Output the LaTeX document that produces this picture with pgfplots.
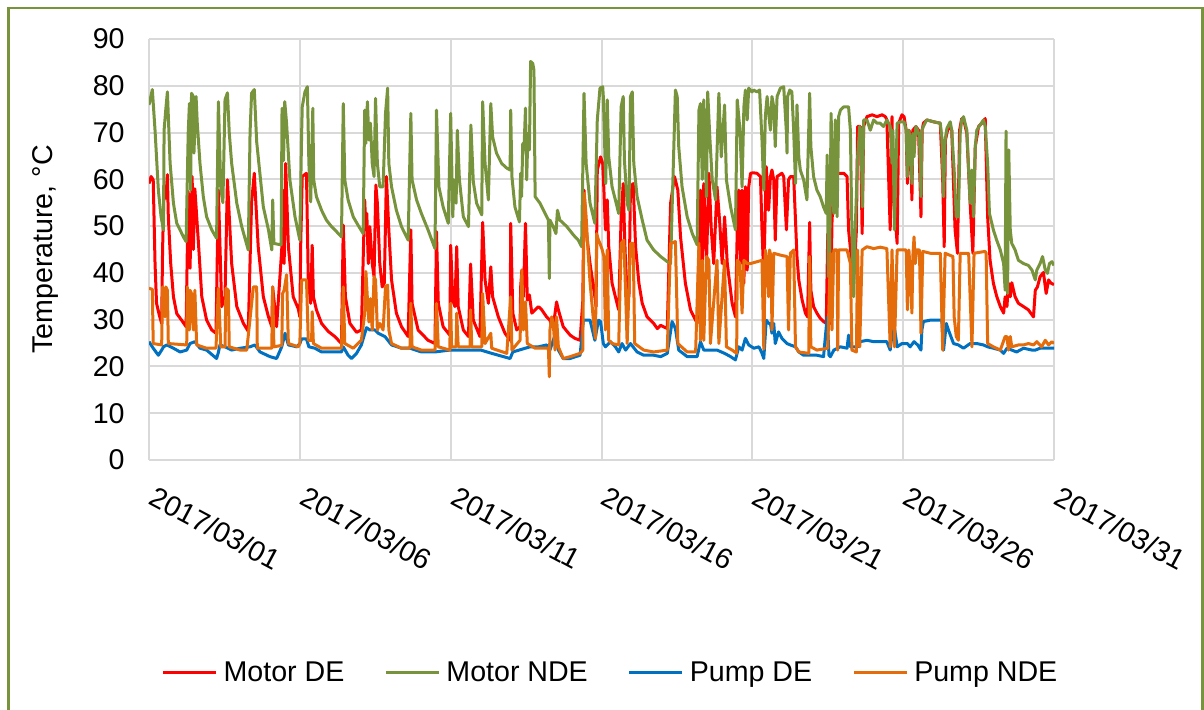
\documentclass[border=0pt]{standalone}
\usepackage{fontspec}
\setmainfont{Liberation Sans}
\usepackage{pgfplots}
\pgfplotsset{compat=1.18}

\definecolor{mde}{HTML}{FF0000}
\definecolor{mnde}{HTML}{77933C}
\definecolor{pde}{HTML}{0070C0}
\definecolor{pnde}{HTML}{E46C0A}
\definecolor{gridc}{HTML}{D9D9D9}
\definecolor{framec}{HTML}{77933C}
\newcommand\chartfont{\fontsize{14.3}{17}\selectfont}

\begin{document}
\begin{tikzpicture}
% outer chart frame
\draw[framec, line width=1.3pt] (4.3pt,-3.9pt) rectangle (601.3pt,-380pt);

\begin{axis}[
  at={(74.5pt,-230pt)}, anchor=south west,
  scale only axis, width=452.5pt, height=210.5pt,
  xmin=0, xmax=30, ymin=0, ymax=90,
  xtick={0,5,10,15,20,25,30},
  xticklabels={2017/03/01,2017/03/06,2017/03/11,2017/03/16,2017/03/21,2017/03/26,2017/03/31},
  ytick={0,10,...,90},
  /pgf/number format/assume math mode=true,
  grid=major,
  major grid style={draw=gridc, line width=1pt},
  axis line style={draw=none},
  tick style={draw=none},
  tick label style={font=\chartfont},
  yticklabel style={anchor=east, inner sep=0pt, xshift=-12pt},
  xticklabel style={xshift=4pt, yshift=-12.5pt, rotate=-28, anchor=north west, inner sep=0pt},
  ylabel={Temperature, °C},
  ylabel style={font=\chartfont, at={(axis description cs:-0.1149,0.5)}, anchor=center},
  legend columns=4,
  legend cell align=left,
  legend style={at={(axis description cs:0.5088,-0.5036)}, anchor=center,
    draw=none, fill=none, inner sep=0pt, font=\chartfont,
    nodes={inner sep=0pt, text depth=0pt},
    /tikz/every even column/.append style={column sep=20pt},
    /tikz/every odd column/.append style={column sep=3pt}},
  legend image code/.code={\draw[#1] (0pt,0pt) -- (26.5pt,0pt);},
  every axis plot/.append style={line width=1.5pt, line join=round, mark=none},
]

% Motor DE
\addplot[mde] coordinates {
(0,59.1) (0.07,60.6) (0.14,59.9) (0.20,42.0) (0.25,33.5) (0.34,31.0) (0.42,29.2) (0.45,45.0) (0.50,58.4) (0.56,56.0) (0.61,61.0) (0.64,52.0) (0.72,42.0) (0.81,34.9) (0.92,31.3) (1.08,29.9) (1.23,28.5) (1.27,45.0) (1.30,57.4) (1.36,41.0) (1.43,60.6) (1.47,45.0) (1.52,58.0) (1.64,46.3) (1.75,34.9) (1.91,29.9) (2.08,27.8) (2.22,27.1) (2.30,57.7) (2.41,32.8) (2.52,35.0) (2.60,59.9) (2.74,42.0) (2.91,32.8) (3.13,29.2) (3.29,27.5) (3.40,55.0) (3.49,61.3) (3.62,45.6) (3.79,34.9) (3.96,30.6) (4.07,28.5) (4.10,37.0) (4.23,28.5) (4.40,45.0) (4.43,57.7) (4.48,42.0) (4.53,63.4) (4.62,45.6) (4.78,34.9) (4.95,32.3) (5.0,30.6) (5.03,46.3) (5.08,60.6) (5.22,61.3) (5.28,38.5) (5.36,33.5) (5.41,45.9) (5.45,34.9) (5.55,32.1) (5.72,29.2) (5.94,27.5) (6.16,26.4) (6.38,24.9) (6.44,50.2) (6.51,34.9) (6.66,29.2) (6.88,27.3) (7.04,27.8) (7.15,55.6) (7.19,49.2) (7.22,52.7) (7.27,42.0) (7.32,49.9) (7.40,42.0) (7.46,39.2) (7.52,58.8) (7.57,54.9) (7.65,42.0) (7.73,37.0) (7.80,37.8) (7.87,60.6) (7.95,49.2) (8.04,38.5) (8.20,31.4) (8.37,28.5) (8.59,26.4) (8.68,49.2) (8.72,33.5) (8.92,27.8) (9.25,25.6) (9.48,24.9) (9.53,48.8) (9.59,33.5) (9.75,28.5) (9.97,26.7) (10.0,45.9) (10.07,34.2) (10.14,32.8) (10.20,45.6) (10.25,32.8) (10.42,27.8) (10.59,26.4) (10.66,41.9) (10.75,29.9) (10.97,26.4) (11.06,50.8) (11.14,38.5) (11.25,33.5) (11.33,41.3) (11.39,34.9) (11.58,30.6) (11.80,27.1) (11.97,25.6) (11.99,50.6) (12.06,31.4) (12.19,27.8) (12.30,28.5) (12.32,37.0) (12.36,40.6) (12.41,34.9) (12.48,50.6) (12.54,34.2) (12.61,35.3) (12.69,31.4) (12.80,32.1) (12.91,32.8) (13.02,32.1) (13.18,30.6) (13.29,29.9) (13.35,28.5) (13.43,29.9) (13.51,33.8) (13.57,32.1) (13.73,28.5) (13.96,26.7) (14.12,26.0) (14.29,25.6) (14.38,34.0) (14.42,57.7) (14.49,49.2) (14.62,42.0) (14.78,34.9) (14.82,32.8) (14.86,62.0) (14.97,64.8) (15.04,63.4) (15.08,57.7) (15.13,49.2) (15.19,55.6) (15.24,45.6) (15.35,37.8) (15.46,34.9) (15.57,32.1) (15.65,52.0) (15.72,59.1) (15.76,49.2) (15.83,35.6) (15.91,34.9) (15.96,58.4) (16.05,59.1) (16.13,45.6) (16.24,37.8) (16.35,33.5) (16.51,30.6) (16.73,29.2) (16.85,28.1) (16.96,28.8) (17.18,28.1) (17.29,54.9) (17.42,60.6) (17.53,57.7) (17.62,47.7) (17.78,37.8) (17.95,32.1) (18.17,29.2) (18.23,43.5) (18.28,57.7) (18.34,42.0) (18.39,59.1) (18.48,42.0) (18.56,61.3) (18.64,49.2) (18.72,42.0) (18.83,58.4) (18.92,50.6) (19.0,42.0) (19.08,52.0) (19.17,42.0) (19.33,33.5) (19.44,30.6) (19.50,49.2) (19.55,57.7) (19.61,42.0) (19.66,57.7) (19.72,37.8) (19.77,58.4) (19.83,40.6) (19.88,58.4) (19.94,61.3) (20.03,61.4) (20.15,61.3) (20.27,60.6) (20.32,49.2) (20.38,39.2) (20.46,62.7) (20.54,53.4) (20.60,60.6) (20.65,62.0) (20.71,59.9) (20.76,47.0) (20.82,60.6) (20.98,61.3) (21.04,60.6) (21.13,49.2) (21.20,59.9) (21.26,60.6) (21.37,60.6) (21.43,51.3) (21.48,43.5) (21.54,38.5) (21.65,34.2) (21.76,31.4) (21.83,30.6) (21.90,50.8) (21.94,36.3) (22.03,32.8) (22.14,31.4) (22.25,30.3) (22.36,29.6) (22.45,29.2) (22.50,48.4) (22.54,39.9) (22.59,29.2) (22.64,50.8) (22.72,61.3) (22.86,61.3) (23.03,61.3) (23.14,60.6) (23.19,49.2) (23.30,42.0) (23.36,38.5) (23.45,49.2) (23.49,71.3) (23.58,71.3) (23.64,48.4) (23.69,71.3) (23.80,73.4) (23.97,73.8) (24.13,73.4) (24.30,73.8) (24.41,73.4) (24.46,72.7) (24.57,49.2) (24.63,73.4) (24.68,56.3) (24.80,46.3) (24.85,72.0) (24.96,73.8) (25.03,73.4) (25.10,70.5) (25.14,59.1) (25.19,70.5) (25.23,69.8) (25.29,55.6) (25.32,70.5) (25.42,71.3) (25.51,70.5) (25.59,52.0) (25.63,70.5) (25.67,72.0) (25.78,72.7) (26.01,72.3) (26.23,72.0) (26.31,59.9) (26.36,45.6) (26.40,68.4) (26.50,71.3) (26.61,70.5) (26.72,49.2) (26.80,44.2) (26.87,70.5) (26.94,73.0) (27.0,73.0) (27.11,69.8) (27.22,54.9) (27.31,44.2) (27.39,67.0) (27.50,71.3) (27.61,72.0) (27.72,73.0) (27.75,64.8) (27.80,52.0) (27.88,42.7) (27.99,37.8) (28.10,35.0) (28.22,32.8) (28.33,31.4) (28.38,34.9) (28.44,32.8) (28.49,37.8) (28.55,34.9) (28.60,37.9) (28.71,34.9) (28.82,33.5) (28.99,32.8) (29.15,32.1) (29.32,30.6) (29.38,36.3) (29.45,37.0) (29.54,39.2) (29.65,40.1) (29.74,35.6) (29.82,38.5) (29.90,37.8) (30.0,37.5)
};
\addlegendentry{Motor DE}

% Motor NDE
\addplot[mnde] coordinates {
(0,75.9) (0.11,79.2) (0.20,70.5) (0.31,57.7) (0.40,52.0) (0.48,49.2) (0.50,70.5) (0.56,75.2) (0.61,78.7) (0.70,63.4) (0.81,54.9) (0.92,50.6) (1.03,49.2) (1.14,47.7) (1.23,46.7) (1.30,70.0) (1.34,76.2) (1.38,57.7) (1.41,78.4) (1.47,77.7) (1.49,65.6) (1.56,77.7) (1.60,72.0) (1.69,63.4) (1.80,56.3) (1.91,52.0) (2.08,49.2) (2.24,47.4) (2.30,76.6) (2.38,58.0) (2.45,55.0) (2.52,77.0) (2.60,78.5) (2.66,70.0) (2.74,63.4) (2.91,54.9) (3.07,50.0) (3.29,44.9) (3.35,70.0) (3.40,78.4) (3.49,79.2) (3.57,68.0) (3.68,61.0) (3.79,54.1) (3.96,49.2) (4.07,44.9) (4.10,55.6) (4.14,46.3) (4.38,46.0) (4.41,75.2) (4.46,64.0) (4.50,76.6) (4.56,72.0) (4.67,59.9) (4.84,52.0) (5.0,47.0) (5.06,70.0) (5.08,75.5) (5.17,78.7) (5.25,79.8) (5.30,63.4) (5.36,55.2) (5.43,75.2) (5.46,59.9) (5.55,56.3) (5.72,53.4) (5.88,51.3) (6.05,49.9) (6.22,48.8) (6.38,47.7) (6.44,76.2) (6.49,59.9) (6.60,55.6) (6.77,52.0) (6.93,50.2) (7.10,48.4) (7.15,74.8) (7.19,67.7) (7.24,76.6) (7.29,68.4) (7.34,72.0) (7.40,63.4) (7.46,60.6) (7.51,77.3) (7.57,63.4) (7.65,58.4) (7.76,58.4) (7.84,74.1) (7.91,79.5) (7.95,63.4) (8.04,58.4) (8.20,53.4) (8.37,49.9) (8.59,47.0) (8.68,74.1) (8.72,59.9) (8.87,55.6) (9.03,52.7) (9.25,49.2) (9.48,45.2) (9.53,74.8) (9.61,58.4) (9.75,54.1) (9.92,50.6) (10.0,74.1) (10.07,52.0) (10.11,59.9) (10.18,54.9) (10.22,70.5) (10.29,59.9) (10.42,52.0) (10.59,49.9) (10.67,71.6) (10.75,59.5) (10.86,54.9) (11.03,52.4) (11.06,76.6) (11.14,63.4) (11.25,55.6) (11.33,76.2) (11.39,69.1) (11.52,65.6) (11.69,63.4) (11.86,62.4) (11.97,62.0) (11.99,74.8) (12.03,60.6) (12.13,54.1) (12.28,50.9) (12.32,61.3) (12.35,56.3) (12.39,67.7) (12.43,66.3) (12.48,75.2) (12.52,59.9) (12.56,69.8) (12.61,66.3) (12.65,85.2) (12.72,84.8) (12.76,83.4) (12.80,56.3) (12.96,54.9) (13.13,52.7) (13.24,51.3) (13.27,38.8) (13.29,51.3) (13.40,49.9) (13.49,48.4) (13.54,53.4) (13.62,51.3) (13.85,49.9) (14.07,48.1) (14.23,47.0) (14.34,45.6) (14.42,78.4) (14.49,63.4) (14.62,54.9) (14.78,50.6) (14.86,72.7) (14.95,79.5) (15.04,79.8) (15.06,77.7) (15.10,68.4) (15.14,59.1) (15.19,77.0) (15.24,64.8) (15.35,58.4) (15.46,55.6) (15.57,52.7) (15.65,75.5) (15.72,77.7) (15.76,64.1) (15.85,54.9) (15.91,53.4) (15.96,77.7) (16.02,78.7) (16.07,63.4) (16.18,56.3) (16.35,51.3) (16.51,47.0) (16.73,44.9) (16.96,43.5) (17.18,42.4) (17.29,42.0) (17.45,79.1) (17.51,77.7) (17.56,67.0) (17.67,58.4) (17.84,52.0) (18.01,48.4) (18.17,46.0) (18.23,74.8) (18.28,76.2) (18.34,60.0) (18.39,77.0) (18.48,56.3) (18.52,78.7) (18.59,69.1) (18.67,59.9) (18.78,55.6) (18.89,78.4) (18.97,64.8) (19.08,75.9) (19.14,59.9) (19.28,54.1) (19.44,49.2) (19.50,77.0) (19.59,70.5) (19.66,58.4) (19.72,75.5) (19.77,79.1) (19.83,72.7) (19.88,79.5) (19.99,78.7) (20.04,79.1) (20.15,78.7) (20.24,79.1) (20.32,68.4) (20.38,57.7) (20.43,73.4) (20.49,77.7) (20.54,74.1) (20.60,70.5) (20.65,77.7) (20.71,75.5) (20.76,67.0) (20.82,77.7) (20.93,79.5) (21.04,79.8) (21.13,70.0) (21.15,65.6) (21.17,77.7) (21.24,79.1) (21.31,78.7) (21.37,70.5) (21.43,59.1) (21.48,75.9) (21.54,64.8) (21.59,62.0) (21.70,59.9) (21.81,55.6) (21.90,78.4) (21.94,67.0) (22.03,60.6) (22.14,57.7) (22.25,56.3) (22.36,54.1) (22.45,52.7) (22.48,65.2) (22.52,39.2) (22.56,39.9) (22.61,74.1) (22.65,63.4) (22.70,52.7) (22.75,72.7) (22.81,52.0) (22.86,73.4) (22.92,74.8) (23.03,75.5) (23.19,75.5) (23.25,70.5) (23.30,49.2) (23.36,34.9) (23.41,49.2) (23.49,64.8) (23.56,71.3) (23.60,70.5) (23.65,54.1) (23.69,72.7) (23.80,72.7) (23.91,70.5) (24.02,72.7) (24.13,72.0) (24.24,72.0) (24.35,71.3) (24.46,72.7) (24.52,72.0) (24.57,71.3) (24.63,63.4) (24.66,70.5) (24.71,49.2) (24.80,72.0) (24.91,72.3) (25.03,72.3) (25.10,70.5) (25.14,60.6) (25.19,70.5) (25.23,68.4) (25.29,59.1) (25.32,69.8) (25.36,64.8) (25.42,71.3) (25.48,70.5) (25.54,69.1) (25.59,56.3) (25.62,70.5) (25.67,71.3) (25.78,72.7) (26.01,72.3) (26.23,72.0) (26.28,69.1) (26.34,56.3) (26.39,68.4) (26.45,70.9) (26.56,72.3) (26.61,70.5) (26.69,62.0) (26.76,52.0) (26.83,52.0) (26.89,69.8) (26.94,72.7) (27.0,73.4) (27.11,70.5) (27.17,62.0) (27.22,54.9) (27.28,62.0) (27.33,52.0) (27.39,67.0) (27.44,70.5) (27.55,71.6) (27.66,72.7) (27.72,71.3) (27.80,63.4) (27.86,52.7) (27.99,49.2) (28.10,47.0) (28.22,44.9) (28.33,42.0) (28.38,36.3) (28.41,70.3) (28.46,35.6) (28.50,66.3) (28.55,49.2) (28.60,46.3) (28.71,44.9) (28.82,42.7) (28.99,42.0) (29.15,41.6) (29.27,40.6) (29.38,38.5) (29.43,40.6) (29.54,42.0) (29.62,43.5) (29.71,40.6) (29.78,39.9) (29.85,42.0) (29.93,42.4) (30.0,41.6)
};
\addlegendentry{Motor NDE}

% Pump DE
\addplot[pde] coordinates {
(0,25.3) (0.14,23.9) (0.31,22.4) (0.42,23.5) (0.48,24.2) (0.59,24.6) (0.81,23.9) (1.03,23.1) (1.25,23.5) (1.36,24.9) (1.52,25.3) (1.69,23.9) (1.91,23.5) (2.24,21.7) (2.30,23.0) (2.35,24.6) (2.52,24.2) (2.74,23.5) (3.02,23.9) (3.35,24.2) (3.51,24.6) (3.68,23.1) (4.01,22.1) (4.23,21.7) (4.40,24.2) (4.51,27.1) (4.62,24.6) (4.90,24.2) (5.0,24.9) (5.06,25.9) (5.22,25.9) (5.30,24.2) (5.50,23.9) (5.72,23.1) (6.05,23.1) (6.38,23.1) (6.44,24.2) (6.60,22.4) (6.71,21.7) (6.88,22.8) (7.04,24.6) (7.21,28.3) (7.32,27.8) (7.49,27.8) (7.60,27.1) (7.82,26.4) (8.04,24.6) (8.37,23.9) (8.65,23.9) (9.03,23.1) (9.48,23.1) (9.97,23.5) (10.5,23.5) (11.0,23.5) (11.36,22.8) (11.97,21.7) (12.06,23.1) (12.63,24.2) (12.91,24.2) (13.18,24.6) (13.29,23.5) (13.46,26.7) (13.57,23.5) (13.73,21.7) (13.96,21.7) (14.29,22.4) (14.40,29.9) (14.62,29.9) (14.78,25.6) (14.90,29.9) (14.97,29.6) (15.06,24.9) (15.13,24.2) (15.30,25.3) (15.46,24.2) (15.57,23.1) (15.68,24.9) (15.80,23.5) (15.96,24.9) (16.18,23.1) (16.40,22.4) (16.73,22.4) (16.96,22.1) (17.18,22.8) (17.34,29.6) (17.45,28.1) (17.56,23.5) (17.84,22.1) (18.17,22.1) (18.28,25.3) (18.39,23.5) (18.83,23.5) (19.08,22.8) (19.28,22.1) (19.44,21.4) (19.55,24.2) (19.66,23.5) (19.77,26.0) (19.88,24.6) (20.05,23.9) (20.22,24.2) (20.32,22.8) (20.38,21.7) (20.46,29.9) (20.54,29.2) (20.60,29.2) (20.65,27.1) (20.71,29.2) (20.76,24.9) (20.87,27.4) (20.98,26.0) (21.15,24.9) (21.26,24.6) (21.43,24.2) (21.54,23.1) (21.70,22.4) (21.90,22.4) (22.14,22.4) (22.36,22.1) (22.48,30.5) (22.54,22.4) (22.59,22.1) (22.70,23.5) (22.92,24.2) (23.14,23.9) (23.19,26.7) (23.25,24.2) (23.49,24.2) (23.58,25.3) (23.80,25.6) (24.02,25.3) (24.24,25.3) (24.46,25.3) (24.57,23.5) (24.68,29.6) (24.80,24.2) (24.96,24.9) (25.14,24.9) (25.23,24.2) (25.36,25.3) (25.48,24.6) (25.59,23.5) (25.62,27.8) (25.67,29.6) (25.90,29.9) (26.12,29.9) (26.28,29.9) (26.34,23.5) (26.43,29.2) (26.50,27.8) (26.67,24.9) (26.83,24.6) (27.0,23.9) (27.22,24.9) (27.44,24.9) (27.66,24.6) (27.80,24.2) (27.99,23.9) (28.22,23.5) (28.33,22.8) (28.44,23.9) (28.60,23.5) (28.76,23.1) (28.99,23.9) (29.27,23.5) (29.38,23.5) (29.54,23.9) (29.78,23.9) (30.0,23.9)
};
\addlegendentry{Pump DE}

% Pump NDE
\addplot[pnde] coordinates {
(0,36.7) (0.11,36.5) (0.14,24.9) (0.42,24.6) (0.45,37.0) (0.53,30.6) (0.56,37.0) (0.61,36.3) (0.64,24.9) (1.25,24.6) (1.27,37.0) (1.34,27.8) (1.36,36.3) (1.41,35.6) (1.47,27.8) (1.52,36.3) (1.58,24.6) (1.91,23.9) (2.22,23.9) (2.30,36.7) (2.38,24.2) (2.52,24.2) (2.55,36.7) (2.63,36.3) (2.66,24.2) (3.02,23.5) (3.24,23.5) (3.46,37.0) (3.57,37.0) (3.59,23.9) (4.07,23.9) (4.10,37.0) (4.14,24.2) (4.40,24.5) (4.43,35.6) (4.48,36.3) (4.56,39.6) (4.62,24.9) (4.95,24.2) (5.0,24.9) (5.06,38.5) (5.22,38.5) (5.28,25.6) (5.39,25.6) (5.41,31.7) (5.45,24.9) (5.72,23.9) (6.38,23.9) (6.44,37.0) (6.49,24.9) (6.77,23.9) (7.04,25.6) (7.15,31.4) (7.19,40.3) (7.24,34.5) (7.29,29.5) (7.34,34.5) (7.40,27.8) (7.46,39.2) (7.51,38.5) (7.57,27.8) (7.65,29.2) (7.76,27.8) (7.84,37.0) (7.91,37.4) (7.95,27.8) (8.04,24.9) (8.37,23.9) (8.65,23.9) (8.68,33.5) (8.72,24.2) (9.03,23.5) (9.48,23.5) (9.53,33.5) (9.59,24.2) (9.97,23.5) (10.0,33.5) (10.03,24.2) (10.18,24.2) (10.20,31.4) (10.25,24.2) (10.64,24.2) (10.66,32.1) (10.70,24.2) (11.03,24.2) (11.06,35.6) (11.14,24.9) (11.33,27.1) (11.36,23.9) (11.86,22.8) (11.99,34.9) (12.03,23.5) (12.30,25.6) (12.36,40.6) (12.41,27.8) (12.48,33.8) (12.54,24.9) (12.80,23.9) (13.24,23.9) (13.27,17.8) (13.29,27.8) (13.35,30.6) (13.40,29.2) (13.46,23.5) (13.51,30.6) (13.57,24.2) (13.73,21.7) (13.96,22.1) (14.29,22.8) (14.38,23.5) (14.40,40.0) (14.43,57.0) (14.49,52.0) (14.56,44.0) (14.62,38.0) (14.73,30.0) (14.80,26.0) (14.84,48.4) (14.90,47.0) (14.95,46.3) (15.02,45.0) (15.08,43.5) (15.13,27.8) (15.19,44.9) (15.24,25.6) (15.35,24.9) (15.57,24.6) (15.65,46.3) (15.74,47.0) (15.80,35.6) (15.85,24.9) (15.96,46.3) (16.05,46.3) (16.10,24.9) (16.40,23.5) (16.73,23.1) (17.18,23.5) (17.29,46.3) (17.45,46.7) (17.53,24.9) (17.84,23.1) (18.12,23.1) (18.23,46.3) (18.28,25.6) (18.34,42.7) (18.39,25.6) (18.48,43.5) (18.56,42.7) (18.61,24.9) (18.83,42.7) (18.89,24.9) (19.08,42.7) (19.14,24.2) (19.33,23.5) (19.48,22.8) (19.50,42.7) (19.59,42.0) (19.66,31.4) (19.72,42.7) (19.83,42.0) (19.94,42.0) (20.16,42.4) (20.32,42.7) (20.38,23.7) (20.43,44.9) (20.49,42.0) (20.54,34.9) (20.57,44.9) (20.62,43.5) (20.65,27.8) (20.71,44.2) (20.93,43.8) (21.15,43.5) (21.20,27.8) (21.26,44.2) (21.37,44.9) (21.43,24.2) (21.54,23.1) (21.87,22.8) (21.90,43.5) (21.94,24.2) (22.14,23.5) (22.50,23.9) (22.59,44.2) (22.64,27.8) (22.70,44.9) (22.81,44.9) (22.83,23.5) (22.86,44.9) (23.14,44.9) (23.25,42.0) (23.30,23.5) (23.45,23.1) (23.49,44.9) (23.56,24.2) (23.64,44.9) (23.80,45.6) (24.02,45.2) (24.24,45.5) (24.46,45.2) (24.57,24.2) (24.63,44.9) (24.71,24.2) (24.80,44.9) (25.02,44.9) (25.10,44.9) (25.14,32.1) (25.19,44.9) (25.23,40.6) (25.29,31.4) (25.32,43.5) (25.36,47.7) (25.40,42.0) (25.45,44.9) (25.54,44.9) (25.59,27.1) (25.65,44.6) (25.90,44.2) (26.23,44.2) (26.31,23.5) (26.39,44.2) (26.65,43.5) (26.69,30.6) (26.76,26.4) (26.83,25.6) (26.89,44.2) (27.17,44.2) (27.22,34.9) (27.28,24.2) (27.35,44.2) (27.72,44.6) (27.75,44.2) (27.80,24.9) (27.99,24.2) (28.22,23.5) (28.38,26.4) (28.44,26.4) (28.49,23.5) (28.55,26.4) (28.60,24.2) (28.82,24.6) (28.99,24.6) (29.15,24.9) (29.32,24.6) (29.43,25.3) (29.59,24.2) (29.71,25.6) (29.82,24.6) (29.93,25.3) (30.0,24.9)
};
\addlegendentry{Pump NDE}
\end{axis}

\pgfresetboundingbox
\useasboundingbox (0,0) rectangle (602pt,-354.5pt);
\end{tikzpicture}
\end{document}
